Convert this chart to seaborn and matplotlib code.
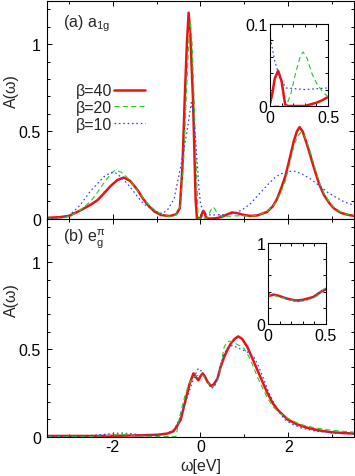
import matplotlib
matplotlib.use("Agg")
import matplotlib.pyplot as plt
from matplotlib.ticker import MultipleLocator, FuncFormatter
import seaborn as sns

# ---- a1g spectra (top panel) ----
w_a40 = [-3.5, -3.2, -3.0, -2.75, -2.5, -2.35, -2.2, -2.05, -1.9, -1.75, -1.6, -1.44, -1.3,
         -1.2, -1.05, -0.9, -0.7, -0.55, -0.47, -0.41, -0.36, -0.31, -0.27, -0.23, -0.17,
         -0.11, -0.08, 0.0, 0.02, 0.04, 0.07, 0.1, 0.13, 0.15, 0.3, 0.35, 0.4, 0.45, 0.5,
         0.6, 0.72, 0.85, 1.0, 1.14, 1.3, 1.52, 1.65, 1.75, 1.85, 1.94, 2.05, 2.13, 2.2,
         2.26, 2.33, 2.44, 2.53, 2.63, 2.72, 2.82, 2.95, 3.05, 3.2, 3.35, 3.5]
A_a40 = [0.004, 0.008, 0.015, 0.045, 0.08, 0.105, 0.145, 0.186, 0.22, 0.235, 0.215, 0.165, 0.11,
         0.078, 0.04, 0.02, 0.014, 0.025, 0.06, 0.3, 0.68, 1.0, 1.18, 1.05, 0.68,
         0.11, 0.0, 0.003, 0.015, 0.033, 0.043, 0.03, 0.002, 0.0, 0.0, 0.002, 0.004, 0.007, 0.011,
         0.022, 0.035, 0.03, 0.02, 0.015, 0.018, 0.038, 0.07, 0.114, 0.18, 0.246, 0.36, 0.445, 0.5,
         0.524, 0.5, 0.417, 0.34, 0.256, 0.19, 0.133, 0.085, 0.057, 0.033, 0.022, 0.015]

w_a20 = [-3.5, -3.2, -3.0, -2.75, -2.5, -2.35, -2.2, -2.05, -1.94, -1.8, -1.6, -1.45, -1.3,
         -1.15, -1.0, -0.85, -0.7, -0.55, -0.45, -0.38, -0.32, -0.27, -0.23, -0.19, -0.14,
         -0.09, -0.05, 0.12, 0.14, 0.18, 0.22, 0.26, 0.285, 0.32, 0.36, 0.4, 0.45, 0.5,
         0.7, 0.9, 1.14, 1.3, 1.52, 1.65, 1.75, 1.85, 1.94, 2.05, 2.13, 2.21, 2.29, 2.37,
         2.44, 2.53, 2.63, 2.72, 2.82, 2.95, 3.05, 3.2, 3.35, 3.5]
A_a20 = [0.0, 0.004, 0.012, 0.045, 0.1, 0.15, 0.205, 0.255, 0.278, 0.265, 0.218, 0.165, 0.114,
         0.07, 0.04, 0.02, 0.012, 0.022, 0.08, 0.35, 0.72, 1.0, 1.13, 1.0, 0.65,
         0.25, 0.0, 0.0, 0.0, 0.015, 0.04, 0.06, 0.066, 0.058, 0.04, 0.028, 0.018, 0.011,
         0.014, 0.016, 0.014, 0.018, 0.04, 0.07, 0.105, 0.16, 0.218, 0.33, 0.415, 0.47, 0.494, 0.475,
         0.43, 0.36, 0.274, 0.2, 0.142, 0.09, 0.062, 0.037, 0.022, 0.015]

w_a10 = [-3.5, -3.2, -3.0, -2.75, -2.5, -2.35, -2.2, -2.05, -1.95, -1.8, -1.6, -1.45, -1.3,
         -1.15, -1.0, -0.87, -0.75, -0.6, -0.45, -0.3, -0.21, -0.16, -0.11, -0.04, 0.0,
         0.04, 0.09, 0.14, 0.3, 0.5, 0.76, 0.95, 1.14, 1.3, 1.52, 1.7, 1.83, 2.0, 2.13,
         2.3, 2.51, 2.7, 2.9, 3.1, 3.28, 3.5]
A_a10 = [0.0, 0.004, 0.015, 0.075, 0.16, 0.2, 0.24, 0.263, 0.265, 0.235, 0.18, 0.13, 0.085,
         0.06, 0.04, 0.028, 0.05, 0.114, 0.3, 0.51, 0.665, 0.6, 0.45, 0.19, 0.086,
         0.055, 0.032, 0.022, 0.02, 0.022, 0.028, 0.05, 0.085, 0.13, 0.19, 0.235, 0.256, 0.27, 0.272,
         0.258, 0.227, 0.19, 0.15, 0.12, 0.095, 0.076]

# ---- eg^pi spectra (bottom panel) ----
w_e40 = [-3.5, -3.0, -2.5, -2.0, -1.5, -1.2, -0.98, -0.75, -0.62, -0.56, -0.45, -0.34, -0.25,
         -0.16, -0.1, -0.05, 0.0, 0.05, 0.1, 0.16, 0.24, 0.3, 0.39, 0.46, 0.54, 0.62, 0.69,
         0.78, 0.86, 0.95, 1.07, 1.18, 1.3, 1.42, 1.53, 1.65, 1.76, 1.99, 2.2, 2.45, 2.7,
         2.98, 3.25, 3.5]
A_e40 = [0.003, 0.003, 0.003, 0.004, 0.006, 0.008, 0.01, 0.017, 0.03, 0.049, 0.097, 0.21, 0.3,
         0.362, 0.34, 0.322, 0.345, 0.362, 0.345, 0.314, 0.29, 0.298, 0.333, 0.4, 0.456, 0.5, 0.532,
         0.56, 0.574, 0.56, 0.513, 0.45, 0.38, 0.31, 0.248, 0.19, 0.153, 0.097, 0.07, 0.049, 0.035,
         0.025, 0.02, 0.017]

w_e20 = [-3.5, -2.5, -2.2, -2.0, -1.8, -1.6, -1.4, -1.0, -0.56, -0.53, -0.49, -0.43, -0.37,
         -0.26, -0.14, -0.02, 0.06, 0.16, 0.27, 0.35, 0.42, 0.48, 0.54, 0.6, 0.66, 0.74, 0.81,
         0.9, 1.0, 1.1, 1.19, 1.3, 1.42, 1.53, 1.65, 1.78, 1.92, 2.1, 2.3, 2.6, 2.98, 3.25, 3.5]
A_e20 = [0.0, 0.0, 0.003, 0.008, 0.012, 0.008, 0.003, 0.0, 0.0, 0.04, 0.097, 0.16, 0.22,
         0.305, 0.343, 0.353, 0.35, 0.31, 0.28, 0.3, 0.343, 0.43, 0.513, 0.54, 0.547, 0.54, 0.532,
         0.52, 0.504, 0.46, 0.41, 0.34, 0.277, 0.22, 0.172, 0.14, 0.115, 0.09, 0.068, 0.05, 0.036,
         0.03, 0.025]

w_e10 = [-3.5, -3.0, -2.5, -2.2, -2.0, -1.8, -1.6, -1.4, -1.2, -0.9, -0.75, -0.6, -0.45, -0.3,
         -0.2, -0.14, -0.05, 0.02, 0.09, 0.2, 0.25, 0.32, 0.39, 0.46, 0.54, 0.63, 0.73, 0.89,
         1.07, 1.22, 1.33, 1.45, 1.56, 1.68, 1.8, 1.92, 2.1, 2.3, 2.6, 2.98, 3.25, 3.5]
A_e10 = [0.001, 0.002, 0.006, 0.012, 0.017, 0.02, 0.016, 0.01, 0.008, 0.01, 0.02, 0.04, 0.115, 0.229,
         0.3, 0.343, 0.39, 0.375, 0.35, 0.295, 0.275, 0.29, 0.333, 0.41, 0.475, 0.51, 0.523, 0.504,
         0.485, 0.456, 0.4, 0.324, 0.25, 0.191, 0.14, 0.097, 0.07, 0.049, 0.032, 0.021, 0.017, 0.015]

labels = ["β=40", "β=20", "β=10"]
colors = ["#ee1111", "#22cc22", "#3344ee"]
widths = [1.8, 0.8, 0.9]
styles = ["-", (0, (4.5, 3)), (0, (1.3, 2.2))]

sns.set_theme(style="ticks")
plt.rcParams["font.family"] = ["Liberation Sans", "DejaVu Sans"]
plt.rcParams["mathtext.default"] = "regular"
plt.rcParams["axes.unicode_minus"] = False
plt.rcParams["font.size"] = 11.5

fig = plt.figure(figsize=(3.55, 4.77), dpi=100)
ax_a = fig.add_axes([0.1324, 0.5398, 0.8646, 0.457])
ax_e = fig.add_axes([0.1324, 0.0828, 0.8646, 0.457])
ins_a = fig.add_axes([0.7606, 0.7757, 0.1634, 0.1719])
ins_e = fig.add_axes([0.7549, 0.3187, 0.1634, 0.1698])

fmt = FuncFormatter(lambda v, p: f"{v:g}")

top_sets = [(w_a40, A_a40), (w_a20, A_a20), (w_a10, A_a10)]
bot_sets = [(w_e40, A_e40), (w_e20, A_e20), (w_e10, A_e10)]

for i, (w, a) in enumerate(top_sets):
    sns.lineplot(x=w, y=a, ax=ax_a, color=colors[i], lw=widths[i], linestyle=styles[i], label=labels[i])
    sns.lineplot(x=w, y=a, ax=ins_a, color=colors[i], lw=widths[i], linestyle=styles[i])
for i, (w, a) in enumerate(bot_sets):
    sns.lineplot(x=w, y=a, ax=ax_e, color=colors[i], lw=widths[i], linestyle=styles[i])
    sns.lineplot(x=w, y=a, ax=ins_e, color=colors[i], lw=widths[i], linestyle=styles[i])


def style_axes(ax, xmaj, xmin, ymaj, ymin, xpad, ypad):
    ax.xaxis.set_major_locator(MultipleLocator(xmaj))
    ax.xaxis.set_minor_locator(MultipleLocator(xmin))
    ax.yaxis.set_major_locator(MultipleLocator(ymaj))
    ax.yaxis.set_minor_locator(MultipleLocator(ymin))
    ax.xaxis.set_major_formatter(fmt)
    ax.yaxis.set_major_formatter(fmt)
    ax.tick_params(which="both", direction="in", top=True, right=True, width=0.7, colors="black",
                   labelsize=11.5)
    ax.tick_params(which="major", length=3.6)
    ax.tick_params(which="minor", length=2.2)
    ax.tick_params(axis="x", pad=xpad)
    ax.tick_params(axis="y", pad=ypad)
    for s in ax.spines.values():
        s.set_linewidth(0.8)
        s.set_color("black")
    ax.set_xlabel("")
    ax.set_ylabel("")


for ax in (ax_a, ax_e):
    style_axes(ax, 2, 1, 0.5, 0.1, 2.0, 4.3)
    ax.set_xlim(-3.5, 3.5)
    ax.set_ylim(0, 1.25)

style_axes(ins_a, 0.5, 0.1, 0.1, 0.02, 3.0, 2)
ins_a.set_xlim(0, 0.5)
ins_a.set_ylim(0, 0.1)
style_axes(ins_e, 0.5, 0.1, 1, 0.2, 3.0, 2)
ins_e.set_xlim(0, 0.5)
ins_e.set_ylim(0, 1)

ax_a.tick_params(labelbottom=False)
ax_a.set_ylabel("A(ω)", fontsize=11.5)
ax_a.yaxis.set_label_coords(-0.09, 0.59)
ax_e.set_ylabel("A(ω)", fontsize=11.5)
ax_e.yaxis.set_label_coords(-0.09, 0.63)
ax_e.set_xlabel("ω[eV]", fontsize=11.5, labelpad=3)

ax_a.text(0.052, 0.883, "(a) a$_{1g}$", transform=ax_a.transAxes, fontsize=11.5, va="baseline")
ax_e.text(0.051, 0.901, "(b) e$_g^{\\pi}$", transform=ax_e.transAxes, fontsize=11.5, va="baseline")

ax_a.legend(loc="upper left", bbox_to_anchor=(0.094, 0.62), frameon=False, markerfirst=False,
            handlelength=1.95, handletextpad=0.1, labelspacing=0.1, borderpad=0, borderaxespad=0,
            fontsize=11.5)

fig.savefig("out.png", dpi=100)
